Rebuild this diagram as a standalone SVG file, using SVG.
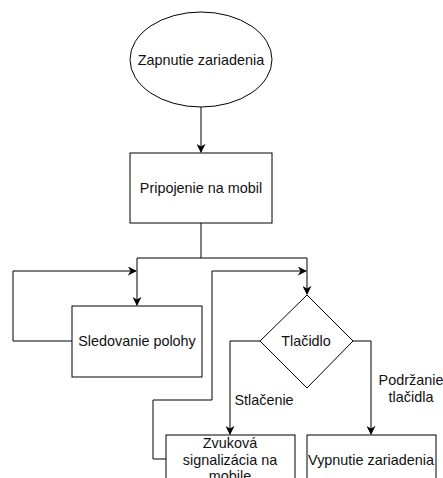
<svg xmlns="http://www.w3.org/2000/svg" width="443" height="478" viewBox="0 0 443 478">
<defs>
<style>
.n{fill:#fff;stroke:#000;stroke-width:1}
.t{font-family:"Liberation Sans",Arial,sans-serif;font-size:14.4px;fill:#111;text-anchor:middle;dominant-baseline:central}
.e{fill:none;stroke:#000;stroke-width:1}
.l{font-family:"Liberation Sans",Arial,sans-serif;font-size:14.4px;fill:#111;text-anchor:middle;dominant-baseline:central}
</style>
<marker id="a" viewBox="0 0 10 10" refX="9" refY="5" markerWidth="9" markerHeight="9" markerUnits="userSpaceOnUse" orient="auto">
<path d="M0,0 L10,5 L0,10 L3,5 z" fill="#000"/>
</marker>
</defs>
<rect width="443" height="478" fill="#fff"/>
<g id="edges">
<path class="e" d="M201,107 V152" marker-end="url(#a)"/>
<path class="e" d="M201,223 V258 H137 V305" marker-end="url(#a)"/>
<path class="e" d="M201,258 H307 V294" marker-end="url(#a)"/>
<path class="e" d="M72,341 H13 V271 H136" marker-end="url(#a)"/>
<path class="e" d="M166,459 H153 V400 H212 V271 H306" marker-end="url(#a)"/>
<path class="e" d="M260,341 H230 V434" marker-end="url(#a)"/>
<path class="e" d="M353,341 H371 V434" marker-end="url(#a)"/>
<text class="l" x="264" y="400">Stlačenie</text>
<text class="l" x="411" y="380">Podržanie</text>
<text class="l" x="411" y="397">tlačidla</text>
</g>
<g id="start">
<ellipse class="n" cx="201" cy="59.5" rx="71" ry="47.5"/>
<text class="t" x="201" y="60">Zapnutie zariadenia</text>
</g>
<g id="connect">
<rect class="n" x="130" y="153" width="142" height="70"/>
<text class="t" x="201" y="188">Pripojenie na mobil</text>
</g>
<g id="track">
<rect class="n" x="72" y="306" width="130" height="71"/>
<text class="t" x="137" y="341">Sledovanie polohy</text>
</g>
<g id="button">
<polygon class="n" points="307,295 353,341 307,388 260,341"/>
<text class="t" x="306" y="341">Tlačidlo</text>
</g>
<g id="sound">
<rect class="n" x="166" y="435" width="129" height="50"/>
<text class="t" x="230" y="443">Zvuková</text>
<text class="t" x="230" y="460">signalizácia na</text>
<text class="t" x="230" y="476">mobile</text>
</g>
<g id="off">
<rect class="n" x="307" y="435" width="129" height="50"/>
<text class="t" x="371" y="460">Vypnutie zariadenia</text>
</g>
</svg>
